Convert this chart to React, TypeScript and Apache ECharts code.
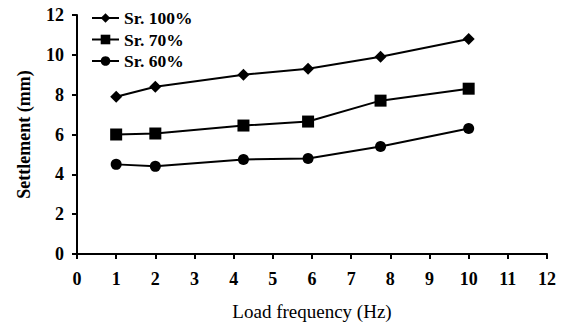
import React, { useEffect, useRef } from "react";
import * as echarts from "echarts";

const frequencies = [1, 2, 4.25, 5.9, 7.75, 10];
const sr100 = [7.9, 8.4, 9.0, 9.3, 9.9, 10.8];
const sr70 = [6.0, 6.05, 6.45, 6.65, 7.7, 8.3];
const sr60 = [4.5, 4.4, 4.75, 4.8, 5.4, 6.3];
const seriesNames = ["Sr. 100%", "Sr. 70%", "Sr. 60%"];

const FONT = "Liberation Serif";

export default function App() {
  const ref = useRef<HTMLDivElement>(null);
  useEffect(() => {
    if (!ref.current) return;
    const chart = echarts.init(ref.current, undefined, { renderer: "svg" });
    const pair = (ys: number[]) => frequencies.map((x, i) => [x, ys[i]]);
    const mk = (name: string, ys: number[], symbol: string, size: number) => ({
      name,
      type: "line",
      data: pair(ys),
      symbol,
      symbolSize: size,
      showAllSymbol: true,
      lineStyle: { color: "#000", width: 2 },
      itemStyle: { color: "#000" },
    });
    chart.setOption({
      animation: false,
      backgroundColor: "#fff",
      textStyle: { fontFamily: FONT },
      grid: { left: 77, right: 19, top: 15, bottom: 74 },
      legend: {
        orient: "vertical",
        left: 86,
        top: 4,
        itemWidth: 27,
        itemHeight: 12,
        itemGap: 3.5,
        data: seriesNames,
        textStyle: { fontFamily: FONT, fontSize: 17.5, fontWeight: "bold", color: "#000" },
      },
      xAxis: {
        type: "value",
        min: 0,
        max: 12,
        interval: 1,
        name: "Load frequency (Hz)",
        nameLocation: "middle",
        nameGap: 48,
        nameTextStyle: { fontFamily: FONT, fontSize: 19, color: "#000" },
        axisLine: { lineStyle: { color: "#000", width: 2 } },
        axisTick: { show: true, length: 5, lineStyle: { color: "#000", width: 2 } },
        axisLabel: { fontFamily: FONT, fontSize: 18, fontWeight: "bold", color: "#000", margin: 16 },
        splitLine: { show: false },
      },
      yAxis: {
        type: "value",
        min: 0,
        max: 12,
        interval: 2,
        name: "Settlement (mm)",
        nameLocation: "middle",
        nameGap: 44,
        nameTextStyle: { fontFamily: FONT, fontSize: 18, fontWeight: "bold", color: "#000" },
        axisLine: { show: true, lineStyle: { color: "#000", width: 2 } },
        axisTick: { show: true, length: 5, lineStyle: { color: "#000", width: 2 } },
        axisLabel: { fontFamily: FONT, fontSize: 18, fontWeight: "bold", color: "#000", margin: 13 },
        splitLine: { show: false },
      },
      series: [
        mk(seriesNames[0], sr100, "diamond", 12),
        mk(seriesNames[1], sr70, "rect", 12),
        mk(seriesNames[2], sr60, "circle", 11),
      ],
    });
    return () => chart.dispose();
  }, []);
  return (
    <div
      ref={ref}
      style={{ position: "fixed", left: 0, top: 0, width: 566, height: 328, background: "#fff" }}
    />
  );
}
